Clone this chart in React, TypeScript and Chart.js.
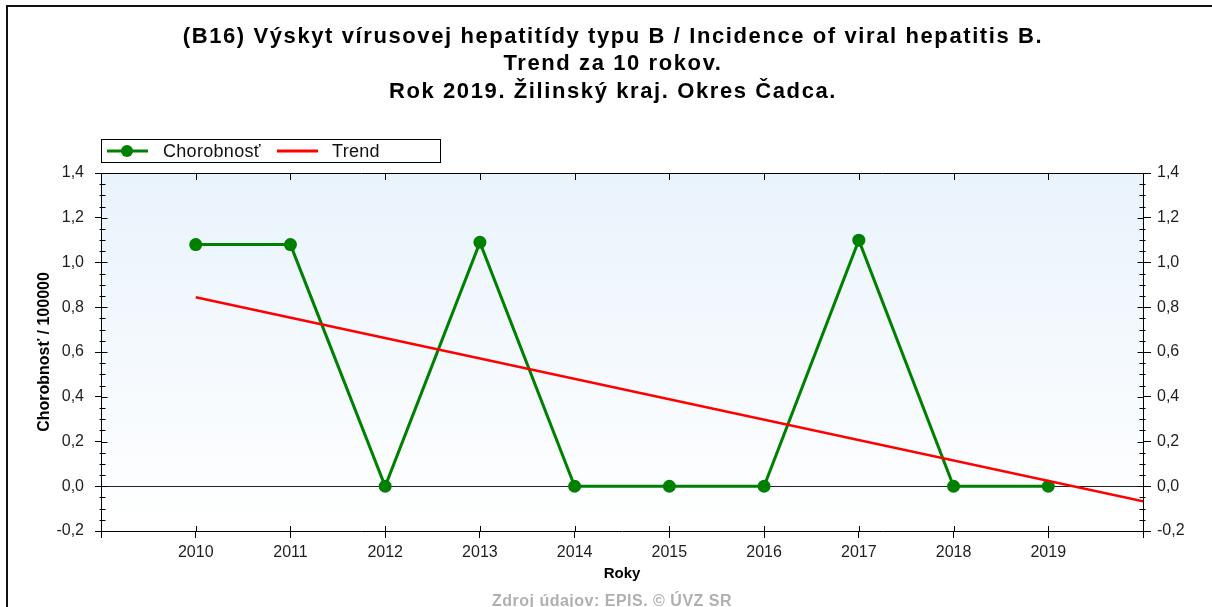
import React, { useEffect, useRef } from "react";
import { Chart, registerables } from "chart.js";

Chart.register(...registerables);

const titleLines = [
  "(B16) Výskyt vírusovej hepatitídy typu B / Incidence of viral hepatitis B.",
  "Trend za 10 rokov.",
  "Rok 2019. Žilinský kraj. Okres Čadca.",
];
const years = [2010, 2011, 2012, 2013, 2014, 2015, 2016, 2017, 2018, 2019];
const incidence = [1.08, 1.08, 0, 1.09, 0, 0, 0, 1.1, 0, 0];
const trendYears = [2010, 2020];
const trendValues = [0.845, -0.067];
const seriesLabel = "Chorobnosť";
const trendLabel = "Trend";
const yAxisTitle = "Chorobnosť / 100000";
const xAxisTitle = "Roky";
const footerText = "Zdroj údajov: EPIS. © ÚVZ SR";

const FONT = "'Liberation Sans', Arial, sans-serif";
const GREEN = "#008000";
const RED = "#ff0000";

const fmt = (v: number) => {
  const s = Number(v).toFixed(1);
  return (s === "-0.0" ? "0.0" : s).replace(".", ",");
};

const decorPlugin = {
  id: "decor",
  beforeDraw(chart: any) {
    const { ctx, chartArea: a } = chart;
    ctx.save();
    const g = ctx.createLinearGradient(0, a.top, 0, a.bottom);
    g.addColorStop(0, "#e9f3fc");
    g.addColorStop(1, "#ffffff");
    ctx.fillStyle = g;
    ctx.fillRect(a.left, a.top, a.right - a.left, a.bottom - a.top);
    // outer frame (top + left)
    ctx.strokeStyle = "#111";
    ctx.lineWidth = 2;
    ctx.beginPath();
    ctx.moveTo(1212, 6);
    ctx.lineTo(7, 6);
    ctx.lineTo(7, 607);
    ctx.stroke();
    ctx.restore();
  },
  beforeDatasetsDraw(chart: any) {
    const { ctx, chartArea: a, scales } = chart;
    const y0 = Math.round(scales.y.getPixelForValue(0)) + 0.5;
    ctx.save();
    ctx.strokeStyle = "#222";
    ctx.lineWidth = 1.2;
    ctx.beginPath();
    ctx.moveTo(a.left, y0);
    ctx.lineTo(a.right, y0);
    ctx.stroke();
    ctx.restore();
  },
  afterDraw(chart: any) {
    const { ctx, chartArea: a, scales } = chart;
    ctx.save();
    ctx.strokeStyle = "#000";
    ctx.lineWidth = 1;
    // top border
    ctx.beginPath();
    ctx.moveTo(a.left, Math.round(a.top) + 0.5);
    ctx.lineTo(a.right, Math.round(a.top) + 0.5);
    ctx.stroke();
    // inner ticks on y axes (major + minor)
    const yl = Math.round(a.left) + 0.5;
    const yr = Math.round(a.right) + 0.5;
    ctx.beginPath();
    for (let i = 0; i <= 32; i++) {
      const v = -0.2 + i * 0.05;
      const py = Math.round(scales.y.getPixelForValue(v)) + 0.5;
      const len = i % 4 === 0 ? 6 : 4;
      ctx.moveTo(yl, py);
      ctx.lineTo(yl + len, py);
      ctx.moveTo(yr, py);
      ctx.lineTo(yr - len, py);
      if (i % 4 !== 0) {
        ctx.moveTo(yl - 2, py);
        ctx.lineTo(yl, py);
        ctx.moveTo(yr + 2, py);
        ctx.lineTo(yr, py);
      }
    }
    // inner ticks on x (bottom up, top down)
    for (let yr2 = 2009; yr2 <= 2020; yr2++) {
      const px = Math.round(scales.x.getPixelForValue(yr2)) + 0.5;
      ctx.moveTo(px, a.bottom);
      ctx.lineTo(px, a.bottom - 5);
      ctx.moveTo(px, a.top);
      ctx.lineTo(px, a.top + 7);
    }
    ctx.stroke();

    // title
    ctx.fillStyle = "#000";
    ctx.textAlign = "center";
    ctx.textBaseline = "alphabetic";
    ctx.font = `bold 22px ${FONT}`;
    (ctx as any).letterSpacing = "1.6px";
    const baselines = [43, 70, 98];
    titleLines.forEach((t, i) => ctx.fillText(t, 613, baselines[i]));
    (ctx as any).letterSpacing = "0px";

    // legend
    ctx.strokeStyle = "#000";
    ctx.lineWidth = 1;
    ctx.strokeRect(101.5, 139.5, 339, 23);
    const ly = 151;
    ctx.strokeStyle = GREEN;
    ctx.lineWidth = 3;
    ctx.beginPath();
    ctx.moveTo(107, ly);
    ctx.lineTo(148, ly);
    ctx.stroke();
    ctx.fillStyle = GREEN;
    ctx.beginPath();
    ctx.arc(127, ly, 6, 0, Math.PI * 2);
    ctx.fill();
    ctx.strokeStyle = RED;
    ctx.beginPath();
    ctx.moveTo(277, ly);
    ctx.lineTo(318, ly);
    ctx.stroke();
    ctx.fillStyle = "#111";
    ctx.textAlign = "left";
    ctx.textBaseline = "middle";
    ctx.font = `18px ${FONT}`;
    (ctx as any).letterSpacing = "0.3px";
    ctx.fillText(seriesLabel, 163, ly + 1);
    ctx.fillText(trendLabel, 332, ly + 1);

    // footer
    ctx.fillStyle = "#b0b0b0";
    ctx.textAlign = "center";
    ctx.textBaseline = "alphabetic";
    ctx.font = `bold 16px ${FONT}`;
    (ctx as any).letterSpacing = "0.5px";
    ctx.fillText(footerText, 612, 606);
    (ctx as any).letterSpacing = "0px";
    ctx.restore();
  },
};

export default function App() {
  const ref = useRef<HTMLCanvasElement>(null);
  useEffect(() => {
    if (!ref.current) return;
    const tickFont = { family: FONT, size: 16 };
    const chart = new Chart(ref.current, {
      type: "line",
      data: {
        datasets: [
          {
            label: trendLabel,
            data: trendYears.map((x, i) => ({ x, y: trendValues[i] })),
            borderColor: RED,
            borderWidth: 2.5,
            pointRadius: 0,
            order: 0,
          },
          {
            label: seriesLabel,
            data: years.map((x, i) => ({ x, y: incidence[i] })),
            borderColor: GREEN,
            backgroundColor: GREEN,
            borderWidth: 3,
            pointRadius: 6.5,
            pointBackgroundColor: GREEN,
            pointBorderWidth: 0,
            order: 1,
          },
        ],
      },
      options: {
        responsive: false,
        animation: false,
        layout: { padding: { top: 173, left: 0, right: 0, bottom: 0 } },
        plugins: {
          legend: { display: false },
          title: { display: false },
          tooltip: { enabled: false },
        },
        scales: {
          x: {
            type: "linear",
            position: "bottom",
            min: 2009,
            max: 2020,
            afterFit: (s: any) => {
              s.height = 76;
            },
            ticks: {
              stepSize: 1,
              autoSkip: false,
              maxRotation: 0,
              padding: 5,
              color: "#1e1e1e",
              font: tickFont,
              callback: (v: any) =>
                Number(v) >= years[0] && Number(v) <= years[years.length - 1] ? String(v) : "",
            },
            grid: { drawOnChartArea: false, tickLength: 7, color: "#000" },
            border: { display: true, color: "#000", width: 1 },
            title: {
              display: true,
              text: xAxisTitle,
              color: "#000",
              font: { family: FONT, size: 15, weight: "bold" },
              padding: { top: 0, bottom: 24 },
            },
          },
          y: {
            type: "linear",
            position: "left",
            min: -0.2,
            max: 1.4,
            afterFit: (s: any) => {
              s.width = 101;
            },
            ticks: {
              stepSize: 0.2,
              padding: 11,
              color: "#1e1e1e",
              font: tickFont,
              callback: (v: any) => fmt(v),
            },
            grid: { drawOnChartArea: false, tickLength: 6, color: "#000" },
            border: { display: true, color: "#000", width: 1 },
            title: {
              display: true,
              text: yAxisTitle,
              color: "#000",
              font: { family: FONT, size: 16, weight: "bold" },
              padding: { top: 35, bottom: 0 },
            },
          },
          y2: {
            type: "linear",
            position: "right",
            min: -0.2,
            max: 1.4,
            afterFit: (s: any) => {
              s.width = 69;
            },
            ticks: {
              stepSize: 0.2,
              padding: 6,
              color: "#1e1e1e",
              font: tickFont,
              callback: (v: any) => fmt(v),
            },
            grid: { drawOnChartArea: false, tickLength: 8, color: "#000" },
            border: { display: true, color: "#000", width: 1 },
          },
        },
      },
      plugins: [decorPlugin],
    });
    return () => chart.destroy();
  }, []);
  return (
    <div style={{ position: "absolute", left: 0, top: 0, width: 1212, height: 607, background: "#fff" }}>
      <canvas ref={ref} width={1212} height={607} style={{ display: "block" }} />
    </div>
  );
}
